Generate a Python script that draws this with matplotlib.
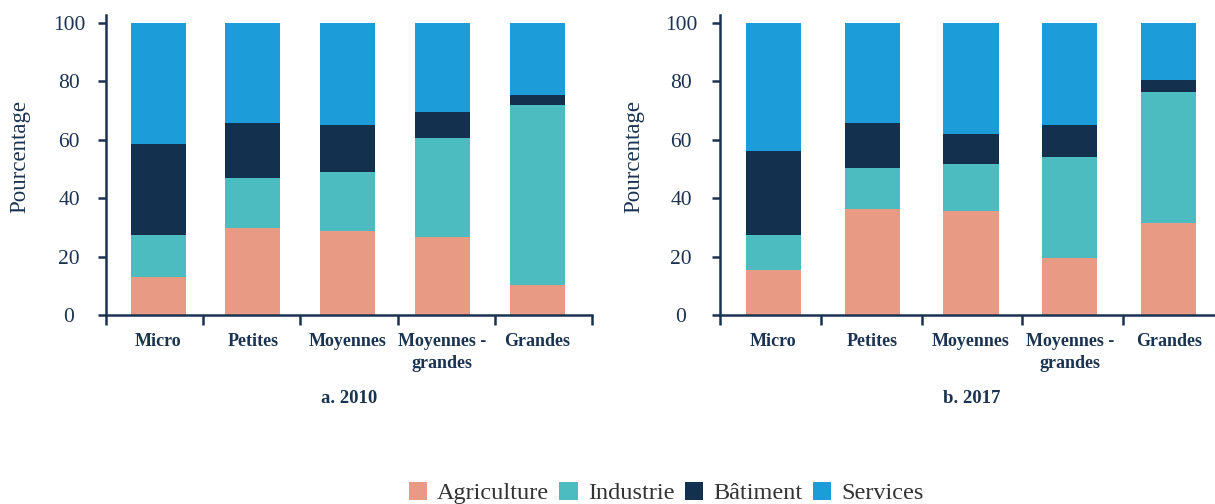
import numpy as np
import matplotlib
matplotlib.use("Agg")
import matplotlib.pyplot as plt
from matplotlib.patches import Patch

# Chart data (percent of firms by sector)
categories = ["Micro", "Petites", "Moyennes", "Moyennes -\ngrandes", "Grandes"]
sectors = ["Agriculture", "Industrie", "Bâtiment", "Services"]

agri_2010 = [13.1, 29.9, 28.8, 26.8, 10.3]
indu_2010 = [14.3, 17.1, 20.1, 33.9, 61.5]
bati_2010 = [31.1, 18.7, 16.1, 8.7, 3.5]
serv_2010 = [41.5, 34.3, 35.0, 30.6, 24.7]

agri_2017 = [15.5, 36.3, 35.6, 19.6, 31.5]
indu_2017 = [11.9, 14.0, 16.1, 34.4, 44.8]
bati_2017 = [28.7, 15.4, 10.2, 11.0, 4.1]
serv_2017 = [43.9, 34.3, 38.1, 35.0, 19.6]

titles = ["a. 2010", "b. 2017"]

colors = ["#E89A84", "#4DBCC0", "#14304F", "#1C9CD8"]
navy = "#1B3352"

plt.rcParams["font.family"] = ["Liberation Serif", "DejaVu Serif"]

fig = plt.figure(figsize=(12.15, 5.04), dpi=100)

# axes boxes in pixels: (left, right, xlim left, xlim right, bar width,
# ylabel x in axes coords, tick label centre offset in px)
panels = [
    (106, 592, -0.55, 4.58, 0.58, -0.156, 37),
    (720, 1224, -0.54, 4.56, 0.557, -0.151, 39),
]
data = [
    [agri_2010, indu_2010, bati_2010, serv_2010],
    [agri_2017, indu_2017, bati_2017, serv_2017],
]

W, H = 1215.0, 504.0
bottom_px, top_px = 315, 15
px2pt = 72.0 / 100

for (l, r, x0, x1, bw, ylx, off), series, title in zip(panels, data, titles):
    ax = fig.add_axes([l / W, 1 - bottom_px / H, (r - l) / W, (bottom_px - top_px) / H])
    x = np.arange(len(categories))
    base = np.zeros(len(categories))
    for vals, c in zip(series, colors):
        ax.bar(x, vals, bw, bottom=base, color=c, linewidth=0)
        base += np.array(vals)

    ax.set_xlim(x0, x1)
    ax.set_ylim(0, 102.6)
    for s in ["top", "right"]:
        ax.spines[s].set_visible(False)
    for s in ["left", "bottom"]:
        ax.spines[s].set_color(navy)
        ax.spines[s].set_linewidth(1.8)

    ax.set_yticks([0, 20, 40, 60, 80, 100])
    ax.tick_params(axis="y", colors=navy, labelsize=15.5, length=8 * px2pt,
                   width=1.8, pad=(off - 8) * px2pt)
    for lab in ax.get_yticklabels():
        lab.set_horizontalalignment("center")

    # category boundaries as tick marks, labels at bar centres
    ax.set_xticks(np.linspace(x0, x1, 6), minor=True)
    ax.tick_params(axis="x", which="minor", length=7, width=1.8, color=navy)
    ax.set_xticks(x)
    ax.set_xticklabels(categories, fontweight="bold", fontsize=13, color=navy,
                       linespacing=1.35)
    ax.tick_params(axis="x", which="major", length=0, pad=13)

    ax.set_ylabel("Pourcentage", fontsize=16.5, color=navy)
    ax.yaxis.set_label_coords(ylx, 0.527)
    ax.set_xlabel(title, fontweight="bold", fontsize=13.5, color=navy, labelpad=13)

handles = [Patch(facecolor=c, edgecolor="none") for c in colors]
fig.legend(handles, sectors, loc="center", bbox_to_anchor=(666 / W, 1 - 493 / H),
           ncol=4, frameon=False, fontsize=17.5, handlelength=0.75, handleheight=0.75,
           handletextpad=0.42, columnspacing=0.42, labelcolor="#333333")

fig.savefig("out.png", dpi=100)
